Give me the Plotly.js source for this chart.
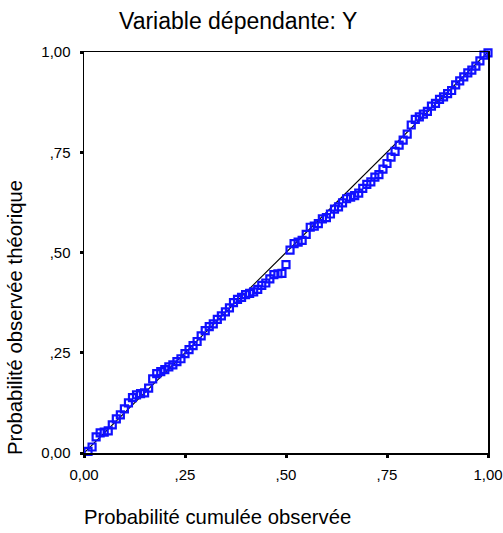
<!DOCTYPE html>
<html>
<head>
<meta charset="utf-8">
<script src="https://cdn.plot.ly/plotly-3.0.1.min.js"></script>
<style>html,body{margin:0;padding:0;background:#fff;}#chart{width:503px;height:533px;}</style>
</head>
<body>
<div id="chart"></div>
<script>
// Observed cumulative probability (x) and expected probability (y)
const observedCumProb = [
  0.01,0.02,0.03,0.04,0.05,0.06,0.07,0.08,0.09,0.10,
  0.11,0.12,0.13,0.14,0.15,0.16,0.17,0.18,0.19,0.20,
  0.21,0.22,0.23,0.24,0.25,0.26,0.27,0.28,0.29,0.30,
  0.31,0.32,0.33,0.34,0.35,0.36,0.37,0.38,0.39,0.40,
  0.41,0.42,0.43,0.44,0.45,0.46,0.47,0.48,0.49,0.50,
  0.51,0.52,0.53,0.54,0.55,0.56,0.57,0.58,0.59,0.60,
  0.61,0.62,0.63,0.64,0.65,0.66,0.67,0.68,0.69,0.70,
  0.71,0.72,0.73,0.74,0.75,0.76,0.77,0.78,0.79,0.80,
  0.81,0.82,0.83,0.84,0.85,0.86,0.87,0.88,0.89,0.90,
  0.91,0.92,0.93,0.94,0.95,0.96,0.97,0.98,0.99,1.00
];
const expectedProb = [
  0.004,0.015,0.040,0.050,0.052,0.055,0.070,0.085,0.095,0.110,
  0.125,0.138,0.145,0.148,0.150,0.162,0.185,0.198,0.203,0.208,
  0.215,0.220,0.228,0.235,0.248,0.258,0.268,0.278,0.292,0.305,
  0.315,0.322,0.333,0.342,0.352,0.362,0.375,0.383,0.388,0.395,
  0.398,0.402,0.408,0.418,0.424,0.434,0.445,0.447,0.448,0.470,
  0.506,0.522,0.526,0.530,0.545,0.563,0.566,0.572,0.584,0.587,
  0.596,0.608,0.614,0.624,0.634,0.638,0.642,0.648,0.660,0.670,
  0.676,0.688,0.694,0.708,0.722,0.738,0.752,0.768,0.780,0.795,
  0.818,0.832,0.838,0.845,0.852,0.865,0.872,0.882,0.888,0.896,
  0.904,0.918,0.928,0.938,0.948,0.955,0.965,0.978,0.992,0.998
];
const refLine = [0, 1];
const tickVals = [0, 0.25, 0.5, 0.75, 1];
const tickText = ["0,00", ",25", ",50", ",75", "1,00"];

const font = "Liberation Sans, Arial, sans-serif";

const traces = [
  {x: refLine, y: refLine, mode: "lines", line: {color: "#000", width: 1.2},
   hoverinfo: "skip", cliponaxis: false},
  {x: observedCumProb, y: expectedProb, mode: "markers", cliponaxis: false,
   marker: {symbol: "square-open", size: 7, color: "#1010ff", line: {width: 2.2, color: "#1010ff"}}}
];

const axisCommon = {
  range: [0, 1], tickvals: tickVals, ticktext: tickText,
  showgrid: false, zeroline: false, showline: true, mirror: true,
  linecolor: "#000", linewidth: 1.5, ticks: "outside", ticklen: 3, tickwidth: 3,
  tickcolor: "#000", tickfont: {family: font, size: 15, color: "#000"}, fixedrange: true
};

const layout = {
  width: 503, height: 533,
  margin: {l: 84, r: 15, t: 52, b: 80},
  paper_bgcolor: "#fff", plot_bgcolor: "#fff",
  showlegend: false,
  title: {text: "Variable dépendante: Y", font: {family: font, size: 23, color: "#000"},
          xref: "container", yref: "container", x: 119/503, xanchor: "left",
          y: 1 - 21/533, yanchor: "middle"},
  xaxis: Object.assign({}, axisCommon, {ticklabelstandoff: 4}),
  yaxis: Object.assign({}, axisCommon, {ticklabelstandoff: 6}),
  annotations: [
    {text: "Probabilité cumulée observée", xref: "paper", yref: "paper",
     x: (217-84)/404, y: -(517-453)/401, xanchor: "center", yanchor: "middle",
     showarrow: false, font: {family: font, size: 20.3, color: "#000"}},
    {text: "Probabilité observée théorique", xref: "paper", yref: "paper",
     x: -(84-15)/404, y: (453-318)/401, xanchor: "center", yanchor: "middle",
     textangle: -90, showarrow: false, font: {family: font, size: 20.3, color: "#000"}}
  ]
};

Plotly.newPlot("chart", traces, layout, {displayModeBar: false, staticPlot: true});
</script>
</body>
</html>
